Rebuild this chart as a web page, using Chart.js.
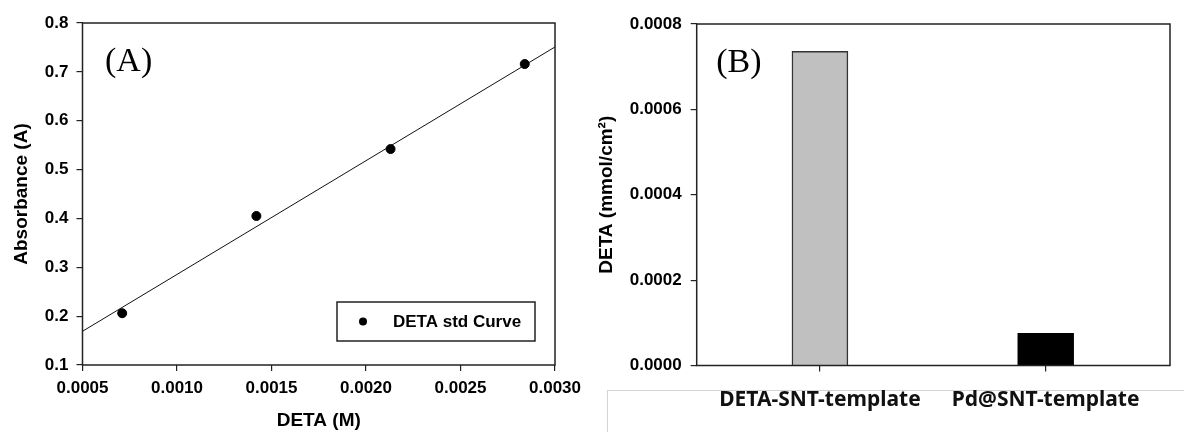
<!DOCTYPE html>
<html>
<head>
<meta charset="utf-8">
<script src="https://cdn.jsdelivr.net/npm/chart.js@4.4.0/dist/chart.umd.min.js"></script>
<style>
  body { margin: 0; background: #fff; width: 1184px; height: 432px; overflow: hidden; position: relative; }
  .panel { position: absolute; top: 0; }
  #boxB { position: absolute; left: 607px; top: 390px; width: 600px; height: 60px; border-top: 1px solid #d4d4d4; border-left: 1px solid #d4d4d4; }
</style>
</head>
<body>
<div id="boxB"></div>
<div class="panel" style="left:0"><canvas id="chartA" width="590" height="432"></canvas></div>
<div class="panel" style="left:590px"><canvas id="chartB" width="594" height="432"></canvas></div>
<script>
// panel A: standard curve
const detaConc = [0.00071, 0.00142, 0.00213, 0.00284];
const absorbance = [0.206, 0.405, 0.542, 0.716];
const fitConc = [0.0005, 0.0030];
const fitAbs = [0.169, 0.751];
const xTicksA = [0.0005, 0.0010, 0.0015, 0.0020, 0.0025, 0.0030];
const yTicksA = [0.1, 0.2, 0.3, 0.4, 0.5, 0.6, 0.7, 0.8];

// panel B: DETA loading
const templates = ['DETA-SNT-template', 'Pd@SNT-template'];
const detaLoad = [0.000736, 0.0000755];
const yTicksB = [0.0000, 0.0002, 0.0004, 0.0006, 0.0008];

const tickFont = { family: 'Liberation Sans', size: 17, weight: 'bold' };
const titleFont = { family: 'Liberation Sans', size: 19, weight: 'bold' };
const catFont = { family: 'Noto Sans', size: 21, weight: 'bold' };
const ink = '#222';

const frame = {
  id: 'frame',
  afterDatasetsDraw(chart) {
    const { ctx, chartArea: a } = chart;
    ctx.save();
    ctx.strokeStyle = ink;
    ctx.lineWidth = 1.5;
    ctx.strokeRect(a.left, a.top, a.right - a.left, a.bottom - a.top);
    ctx.restore();
  }
};

const panelLabel = {
  id: 'panelLabel',
  afterDraw(chart, args, opts) {
    const { ctx, chartArea: a } = chart;
    ctx.save();
    ctx.font = '34px "Liberation Serif"';
    ctx.fillStyle = '#000';
    ctx.textBaseline = 'alphabetic';
    ctx.fillText(opts.text, a.left + opts.dx, a.top + 47.5);
    ctx.restore();
  }
};

const legendBox = {
  id: 'legendBox',
  afterDraw(chart, args, opts) {
    if (!opts.text) return;
    const { ctx, chartArea: a } = chart;
    const w = 198, h = 39;
    const x = a.right - 20 - w, y = a.bottom - 24 - h;
    ctx.save();
    ctx.strokeStyle = ink;
    ctx.lineWidth = 1.5;
    ctx.strokeRect(x, y, w, h);
    ctx.fillStyle = '#000';
    ctx.beginPath();
    ctx.arc(x + 26, y + h / 2, 4, 0, Math.PI * 2);
    ctx.fill();
    ctx.font = 'bold 17px "Liberation Sans"';
    ctx.textBaseline = 'middle';
    ctx.fillText(opts.text, x + 56, y + h / 2 + 1);
    ctx.restore();
  }
};

Chart.register(frame, panelLabel, legendBox);

new Chart(document.getElementById('chartA'), {
  type: 'scatter',
  data: {
    datasets: [
      {
        label: 'DETA std Curve',
        data: detaConc.map((c, i) => ({ x: c, y: absorbance[i] })),
        backgroundColor: '#000',
        borderColor: '#000',
        pointRadius: 4.5
      },
      {
        type: 'line',
        label: 'fit',
        data: fitConc.map((c, i) => ({ x: c, y: fitAbs[i] })),
        borderColor: '#111',
        borderWidth: 1,
        pointRadius: 0,
        showLine: true
      }
    ]
  },
  options: {
    responsive: false,
    animation: false,
    layout: { padding: { top: 23, right: 35, bottom: 0, left: 0 } },
    plugins: {
      legend: { display: false },
      tooltip: { enabled: false },
      panelLabel: { text: '(A)', dx: 22.5 },
      legendBox: { text: 'DETA std Curve' }
    },
    scales: {
      x: {
        type: 'linear', min: 0.0005, max: 0.003,
        afterBuildTicks: s => { s.ticks = xTicksA.map(v => ({ value: v })); },
        afterFit: s => { s.height = 67; },
        border: { display: false },
        grid: { drawOnChartArea: false, tickLength: 6, color: ink, lineWidth: 1.2 },
        ticks: { padding: 7, color: '#000', font: tickFont, maxRotation: 0, autoSkip: false, callback: v => v.toFixed(4) },
        title: { display: true, text: 'DETA (M)', color: '#000', font: titleFont, padding: { top: 0, bottom: 0 } }
      },
      y: {
        min: 0.1, max: 0.8,
        afterBuildTicks: s => { s.ticks = yTicksA.map(v => ({ value: v })); },
        afterFit: s => { s.width = 82.5; },
        border: { display: false },
        grid: { drawOnChartArea: false, tickLength: 6, color: ink, lineWidth: 1.2 },
        ticks: { padding: 8, color: '#000', font: tickFont, callback: v => v.toFixed(1) },
        title: { display: true, text: 'Absorbance (A)', color: '#000', font: titleFont, padding: { top: 10, bottom: 0 } }
      }
    }
  }
});

new Chart(document.getElementById('chartB'), {
  type: 'bar',
  data: {
    datasets: [{
      label: 'DETA',
      data: templates.map((t, i) => ({ x: i + 1, y: detaLoad[i] })),
      backgroundColor: ['#c0c0c0', '#000000'],
      borderColor: ['#333', '#000'],
      borderWidth: 1.5,
      barThickness: 56
    }]
  },
  options: {
    responsive: false,
    animation: false,
    layout: { padding: { top: 24, right: 14, bottom: 0, left: 0 } },
    plugins: {
      legend: { display: false },
      tooltip: { enabled: false },
      panelLabel: { text: '(B)', dx: 19.5 },
      legendBox: { text: '' }
    },
    scales: {
      x: {
        type: 'linear', min: 0.454, max: 2.551, offset: false,
        afterBuildTicks: s => { s.ticks = templates.map((t, i) => ({ value: i + 1 })); },
        afterFit: s => { s.height = 66.5; },
        border: { display: false },
        grid: { offset: false, drawOnChartArea: false, tickLength: 6, color: ink, lineWidth: 1.2 },
        ticks: { padding: 16, color: '#111', font: catFont, maxRotation: 0, autoSkip: false, callback: v => templates[v - 1] }
      },
      y: {
        min: 0, max: 0.0008,
        afterBuildTicks: s => { s.ticks = yTicksB.map(v => ({ value: v })); },
        afterFit: s => { s.width = 106.7; },
        border: { display: false },
        grid: { drawOnChartArea: false, tickLength: 6, color: ink, lineWidth: 1.2 },
        ticks: { padding: 9, color: '#000', font: tickFont, callback: v => v.toFixed(4) },
        title: { display: true, text: 'DETA (mmol/cm²)', color: '#000', font: titleFont, padding: { top: 5.5, bottom: 0 } }
      }
    }
  }
});
</script>
</body>
</html>
